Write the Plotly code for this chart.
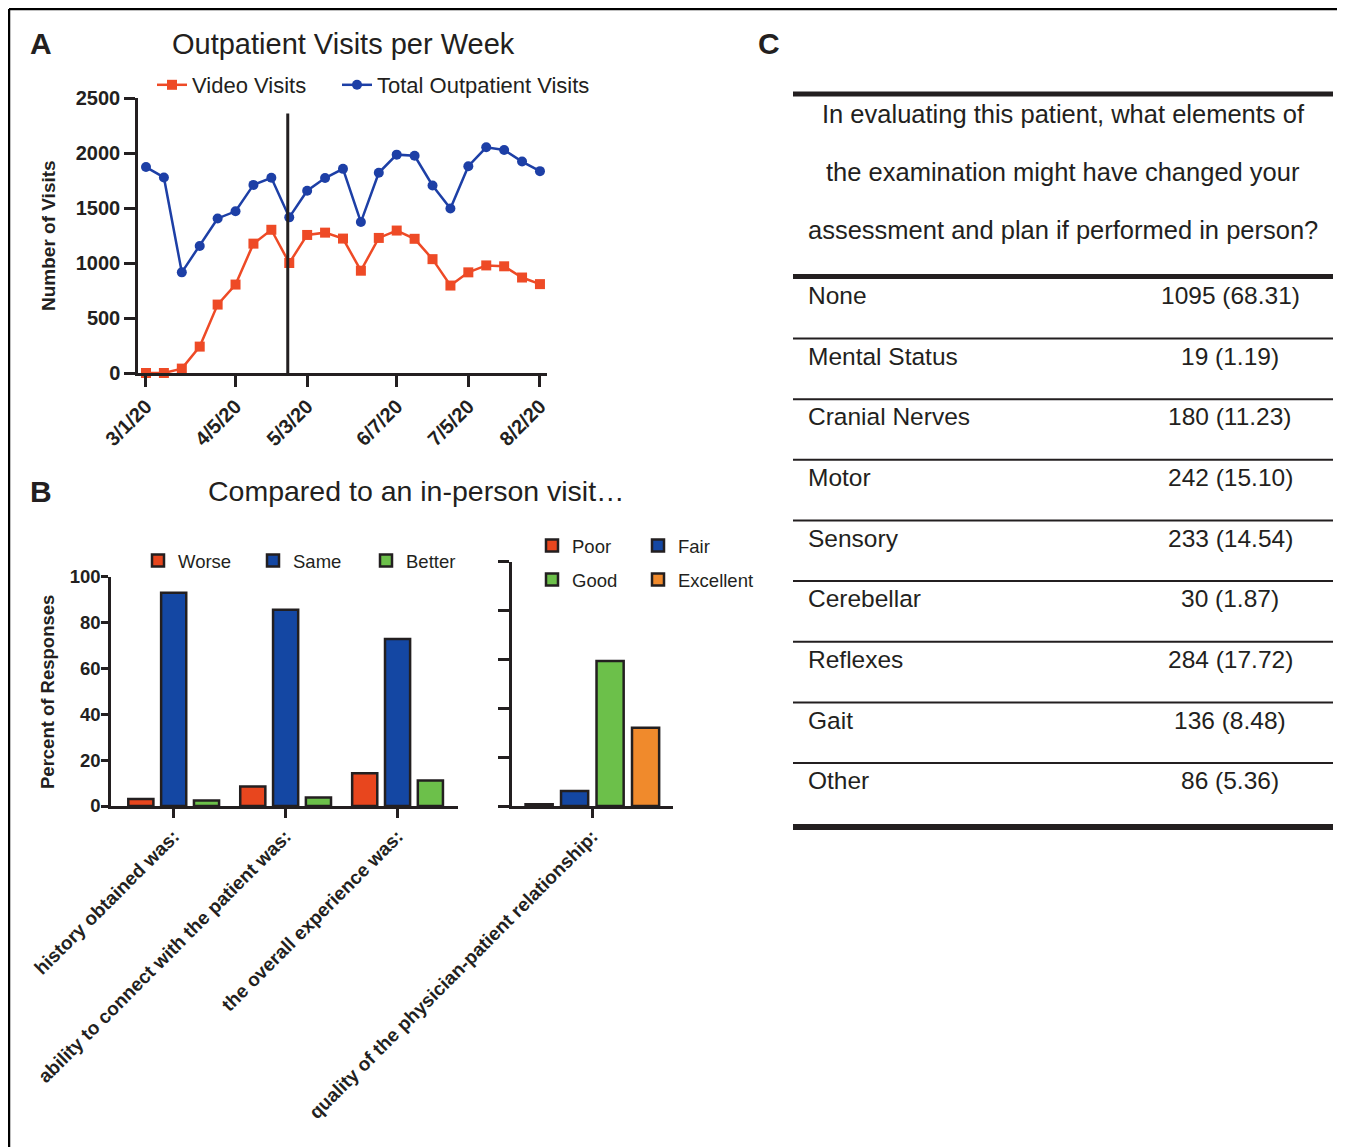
import plotly.graph_objects as go

# The page places the figure 8 px from the top-left corner, so the figure is
# made 8 px smaller and all layout pixel positions are measured from the window.
WIN_W, WIN_H = 1345, 1147
OFF = 8
FW, FH = WIN_W - OFF, WIN_H - OFF
FONT = "Liberation Sans, Arial, Helvetica, sans-serif"
INK = "#231f20"

# ---------------- Panel A data ----------------
week_dates = ["2020-03-01", "2020-03-08", "2020-03-15", "2020-03-22", "2020-03-29",
              "2020-04-05", "2020-04-12", "2020-04-19", "2020-04-26", "2020-05-03",
              "2020-05-10", "2020-05-17", "2020-05-24", "2020-05-31", "2020-06-07",
              "2020-06-14", "2020-06-21", "2020-06-28", "2020-07-05", "2020-07-12",
              "2020-07-19", "2020-07-26", "2020-08-02"]
video_visits = [0, 0, 40, 240, 622, 804, 1176, 1302, 1000, 1255, 1276, 1222, 930,
                1228, 1295, 1220, 1035, 795, 915, 978, 970, 868, 808]
total_visits = [1872, 1778, 915, 1155, 1405, 1470, 1710, 1775, 1415, 1657, 1772, 1856,
                1372, 1820, 1985, 1975, 1705, 1495, 1880, 2052, 2028, 1922, 1835]
a_tick_dates = ["2020-03-01", "2020-04-05", "2020-05-03", "2020-06-07", "2020-07-05", "2020-08-02"]
a_tick_labels = ["3/1/20", "4/5/20", "5/3/20", "6/7/20", "7/5/20", "8/2/20"]
cutoff_date = "2020-04-25 10:00"
cutoff_top = 2360

# ---------------- Panel B data ----------------
compare_items = ["history obtained was:",
                 "ability to connect with the patient was:",
                 "the overall experience was:"]
worse_pct = [3.0, 8.5, 14.3]
same_pct = [93.0, 85.6, 72.8]
better_pct = [2.4, 3.7, 11.1]

quality_item = ["quality of the physician-patient relationship:"]
poor_pct = [0.7]
fair_pct = [6.1]
good_pct = [59.4]
excellent_pct = [32.0]

# ---------------- Panel C data ----------------
table_question = ["In evaluating this patient, what elements of",
                  "the examination might have changed your",
                  "assessment and plan if performed in person?"]
exam_elements = ["None", "Mental Status", "Cranial Nerves", "Motor", "Sensory",
                 "Cerebellar", "Reflexes", "Gait", "Other"]
exam_counts = [1095, 19, 180, 242, 233, 30, 284, 136, 86]
exam_percents = ["68.31", "1.19", "11.23", "15.10", "14.54", "1.87", "17.72", "8.48", "5.36"]

# colours
RED_LINE = "#ee4a26"
BLUE_LINE = "#1d3fa6"
RED = "#e8461e"
BLUE = "#1447a3"
GREEN = "#6cc04a"
ORANGE = "#f08a2c"


def fx(x):
    return (x - OFF) / FW


def fy(y):
    return 1 - (y - OFF) / FH


fig = go.Figure()

# ---- Panel A traces
fig.add_trace(go.Scatter(x=week_dates, y=video_visits, name="Video Visits",
                         mode="lines+markers", line=dict(color=RED_LINE, width=2.5),
                         marker=dict(symbol="square", size=10, color=RED_LINE),
                         cliponaxis=False, legend="legend", showlegend=True,
                         xaxis="x", yaxis="y"))
fig.add_trace(go.Scatter(x=week_dates, y=total_visits, name="Total Outpatient Visits",
                         mode="lines+markers", line=dict(color=BLUE_LINE, width=2.5),
                         marker=dict(symbol="circle", size=10, color=BLUE_LINE),
                         cliponaxis=False, legend="legend2", showlegend=True,
                         xaxis="x", yaxis="y"))

# ---- Panel B left
bar_line = dict(color=INK, width=2.5)
for name, vals, col, lg in [("Worse", worse_pct, RED, "legend3"),
                            ("Same", same_pct, BLUE, "legend4"),
                            ("Better", better_pct, GREEN, "legend5")]:
    fig.add_trace(go.Bar(x=compare_items, y=vals, name=name,
                         marker=dict(color=col, line=bar_line), showlegend=True,
                         legend=lg, xaxis="x2", yaxis="y2", cliponaxis=False))

# ---- Panel B right
for name, vals, col, lg in [("Poor", poor_pct, RED, "legend6"), ("Fair", fair_pct, BLUE, "legend7"),
                            ("Good", good_pct, GREEN, "legend8"), ("Excellent", excellent_pct, ORANGE, "legend9")]:
    fig.add_trace(go.Bar(x=quality_item, y=vals, name=name,
                         marker=dict(color=col, line=bar_line), showlegend=True,
                         legend=lg, xaxis="x3", yaxis="y3", cliponaxis=False))


def ax(**kw):
    d = dict(showline=True, linecolor=INK, linewidth=2.5, ticks="outside", tickcolor=INK,
             tickwidth=2.5, showgrid=False, zeroline=False, automargin=False, fixedrange=True)
    d.update(kw)
    return d


def leg(x, y, size):
    return dict(orientation="h", x=fx(x), xanchor="left", y=fy(y), yanchor="middle",
                font=dict(family=FONT, size=size, color=INK), visible=True,
                bgcolor="rgba(0,0,0,0)", borderwidth=0)


tick_a = dict(family=FONT, size=20, color=INK, weight="bold")
tick_b = dict(family=FONT, size=18.5, color=INK, weight="bold")
cat_font = dict(family=FONT, size=19, color=INK, weight="bold")

layout = dict(
    width=FW, height=FH, margin=dict(l=0, r=0, t=0, b=0),
    paper_bgcolor="white", plot_bgcolor="rgba(0,0,0,0)",
    font=dict(family=FONT, color=INK),
    showlegend=True,
    barmode="group", bargap=0.12, bargroupgap=0.235,
    xaxis=ax(domain=[fx(138), fx(547)], anchor="y", type="date",
             range=["2020-02-26 21:00", "2020-08-04 18:00"],
             tickvals=a_tick_dates, ticktext=a_tick_labels, tickangle=-45,
             ticklen=11, tickfont=tick_a),
    yaxis=ax(domain=[fy(373), fy(98)], anchor="x", range=[0, 2500], dtick=500,
             ticklen=11, tickfont=tick_a),
    xaxis2=ax(domain=[fx(111), fx(458)], anchor="y2", type="category",
              range=[-0.56, 2.54], tickangle=-45, ticklen=9, tickfont=cat_font),
    yaxis2=ax(domain=[fy(806), fy(576.7)], anchor="x2", range=[0, 100], dtick=20,
              ticklen=7, ticklabelstandoff=-3, tickfont=tick_b),
    xaxis3=ax(domain=[fx(511.7), fx(673)], anchor="y3", type="category",
              range=[-0.5, 0.5], tickangle=-45, ticklen=9, tickfont=cat_font),
    yaxis3=ax(domain=[fy(806), fy(561.7)], anchor="x3", range=[0, 100], dtick=20,
              ticklen=11, showticklabels=False),
    legend=leg(152, 85, 22),
    legend2=leg(337, 85, 22),
    legend3=leg(138, 561, 18.5),
    legend4=leg(253, 561, 18.5),
    legend5=leg(366, 561, 18.5),
    legend6=leg(532, 546, 18.5),
    legend7=leg(638, 546, 18.5),
    legend8=leg(532, 580, 18.5),
    legend9=leg(638, 580, 18.5),
)
fig.update_layout(**layout)

annotations = []
shapes = []


def txt(x, y, s, size, bold=False, xanchor="center", angle=0):
    annotations.append(dict(xref="paper", yref="paper", x=fx(x), y=fy(y), text=s,
                            showarrow=False, xanchor=xanchor, yanchor="middle",
                            textangle=angle,
                            font=dict(family=FONT, size=size, color=INK,
                                      weight="bold" if bold else "normal")))


def hline(x0, x1, y, w):
    shapes.append(dict(type="line", xref="paper", yref="paper", x0=fx(x0), x1=fx(x1),
                       y0=fy(y), y1=fy(y), line=dict(color=INK, width=w)))


# panel letters and titles
txt(41, 44, "A", 30, bold=True)
txt(41, 491, "B", 30, bold=True)
txt(769, 44, "C", 30, bold=True)
txt(343, 44, "Outpatient Visits per Week", 29)
txt(416, 491, "Compared to an in-person visit…", 28.5)
txt(48, 236, "Number of Visits", 19, bold=True, angle=-90)
txt(47, 692, "Percent of Responses", 18.5, bold=True, angle=-90)

# cutoff line in panel A
shapes.append(dict(type="line", xref="x", yref="y", x0=cutoff_date, x1=cutoff_date,
                   y0=0, y1=cutoff_top, line=dict(color=INK, width=3)))

# outer frame (top and left edges)
shapes.append(dict(type="line", xref="paper", yref="paper", x0=fx(9), x1=1,
                   y0=fy(9), y1=fy(9), line=dict(color="black", width=2.5)))
shapes.append(dict(type="line", xref="paper", yref="paper", x0=fx(9), x1=fx(9),
                   y0=fy(9), y1=0, line=dict(color="black", width=2.5)))

# panel C table
T_LEFT, T_RIGHT = 793, 1333
hline(T_LEFT, T_RIGHT, 94, 5)
for i, line in enumerate(table_question):
    txt(1063, 113.5 + i * 58.3, line, 25.5)
hline(T_LEFT, T_RIGHT, 276.5, 5)
ROW0, ROW_STEP = 295.5, 60.65
for i, (el, n, p) in enumerate(zip(exam_elements, exam_counts, exam_percents)):
    yc = ROW0 + i * ROW_STEP
    txt(806, yc, el, 24.5, xanchor="left")
    txt(1230, yc, f"{n} ({p})", 24.5)
    if i < len(exam_elements) - 1:
        hline(T_LEFT, T_RIGHT, yc + 43, 2)
hline(T_LEFT, T_RIGHT, 827, 6)

fig.update_layout(annotations=annotations, shapes=shapes)
fig.write_html("out.html")
